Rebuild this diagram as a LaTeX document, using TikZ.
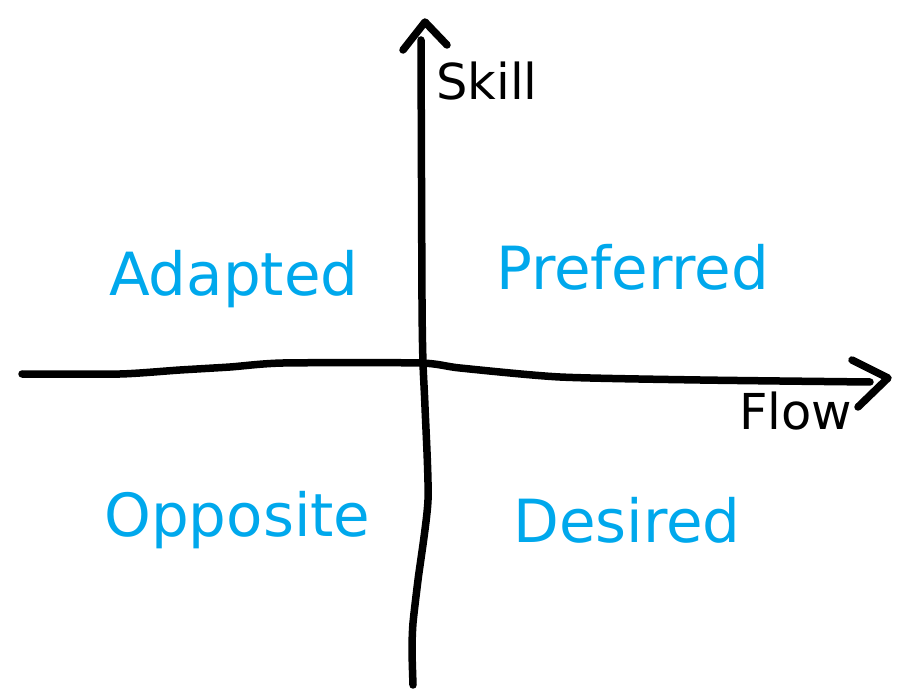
\documentclass[tikz,border=0pt]{standalone}
\usepackage{fontspec}
\setmainfont{DejaVu Sans}
\usetikzlibrary{positioning}
\definecolor{quadblue}{RGB}{0,168,236}

\begin{document}
\begin{tikzpicture}[x=1pt,y=-1pt,
  axis/.style={line width=7.5pt,line cap=round,line join=round},
  quad/.style={anchor=base west,inner sep=0pt,text=quadblue,font=\fontsize{59.5}{59.5}\selectfont},
  axlabel/.style={anchor=base west,inner sep=0pt,font=\fontsize{49.5}{49.5}\selectfont}]

\useasboundingbox (0,0) rectangle (900,700);

% axis ends
\coordinate (flowStart) at (22,374);
\coordinate (flowEnd)   at (870,382);
\coordinate (flowTip)   at (888,378);
\coordinate (skillStart) at (413,685);
\coordinate (skillEnd)   at (421,40);
\coordinate (skillTip)   at (425,22);

% hand drawn axes
\draw[axis] plot[smooth,tension=0.4] coordinates {(flowStart) (120,374) (180,370) (230,367) (283,363) (420,363) (460,368) (560,377) (700,380) (flowEnd)};
\draw[axis] (852,360) -- (flowTip) -- (858,407);
\draw[axis] plot[smooth,tension=0.4] coordinates {(skillStart) (412,650) (413,623) (418,580) (428,500) (425,407) (423,363) (422,300) (skillEnd)};
\draw[axis] (403,50) -- (skillTip) -- (447,45);

% labels
\node[axlabel] (skill) at (436,100) {Skill};
\node[axlabel] (flow)  at (739,430) {Flow};

\node[quad] (adapted)   at (109,296) {Adapted};
\node[quad] (preferred) at (496,290) {Preferred};
\node[quad] (opposite)  at (104,536) {Opposite};
\node[quad] (desired)   at (513,542) {Desired};

\end{tikzpicture}
\end{document}
